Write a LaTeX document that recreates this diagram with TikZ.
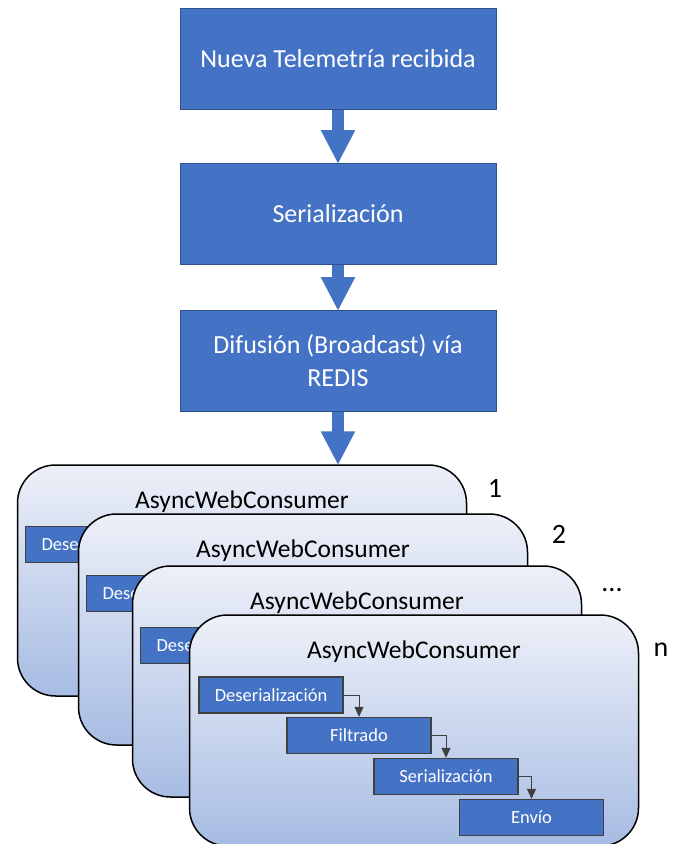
\documentclass[tikz,border=0pt]{standalone}
\usepackage{fontspec}
\setmainfont{Carlito}
\usetikzlibrary{arrows.meta,calc}
\definecolor{offblue}{HTML}{4472C4}
\definecolor{offborder}{HTML}{2F528F}
\definecolor{cardtop}{HTML}{EDF0F8}
\definecolor{cardbot}{HTML}{A7BCE3}
\definecolor{conn}{HTML}{404040}
\tikzset{
  mainbox/.style={draw=offborder, line width=1pt, fill=offblue, text=white,
    minimum width=316pt, minimum height=101pt, align=center, inner sep=0pt,
    font=\fontsize{26}{33}\selectfont},
  blockarrow/.style={draw=offblue, line width=12pt, -{Triangle[width=32pt,length=34pt]}, shorten >=-1pt},
  card/.style={draw=black, line width=1.5pt, rounded corners=38pt, top color=cardtop, bottom color=cardbot,
    minimum width=449pt, minimum height=231pt, inner sep=0pt},
  cardtitle/.style={font=\fontsize{25.5}{30}\selectfont, text=black, inner sep=0pt},
  stepbox/.style={draw=conn, line width=1.4pt, fill=offblue, text=white,
    minimum width=144pt, minimum height=36pt, inner sep=0pt, font=\fontsize{18.5}{22}\selectfont},
  stepconn/.style={draw=conn, line width=0.8pt, -{Triangle[width=9pt,length=10pt]}},
  numlabel/.style={font=\fontsize{28}{32}\selectfont, inner sep=0pt}
}
\begin{document}
\begin{tikzpicture}[x=1pt,y=-1pt]
\useasboundingbox (0,0) rectangle (678,844);
% top flow
\node[mainbox] (b1) at (338,58.5) {Nueva Telemetría recibida};
\node[mainbox] (b2) at (338,214) {Serialización};
\node[mainbox] (b3) at (338,361) {Difusión (Broadcast) vía\\REDIS};
\draw[blockarrow] (b1.south) -- (b2.north);
\draw[blockarrow] (b2.south) -- (b3.north);
% card 1
\node[card] (c1) at (242,580.5) {};
\coordinate (a3end) at (b3.south |- c1.north);
\node[cardtitle] (t1) at ($(c1.north)+(0,37)$) {AsyncWebConsumer};
\node[stepbox] (d1) at ($(c1.north west)+(81,80)$) {Deserialización};
\draw[blockarrow] (b3.south) -- (a3end);
% card 2
\node[card] (c2) at (303,629.5) {};
\node[cardtitle] (t2) at ($(c2.north)+(0,37)$) {AsyncWebConsumer};
\node[stepbox] (d2) at ($(c2.north west)+(81,80)$) {Deserialización};
% card 3
\node[card] (c3) at (357,681.5) {};
\node[cardtitle] (t3) at ($(c3.north)+(0,37)$) {AsyncWebConsumer};
\node[stepbox] (d3) at ($(c3.north west)+(81,80)$) {Deserialización};
% card n
\node[card] (c4) at (414,730.5) {};
\node[cardtitle] (t4) at ($(c4.north)+(0,37)$) {AsyncWebConsumer};
\node[stepbox] (s1) at (271,695) {Deserialización};
\node[stepbox] (s2) at (359,735.5) {Filtrado};
\node[stepbox] (s3) at (446,776.5) {Serialización};
\node[stepbox] (s4) at (531.5,817.5) {Envío};
\draw[stepconn] (s1.east) -| (s2.north);
\draw[stepconn] (s2.east) -| (s3.north);
\draw[stepconn] (s3.east) -| (s4.north);
% labels
\node[numlabel] (n1) at (495,488) {1};
\node[numlabel] (n2) at (559,534) {2};
\node[numlabel] (n3) at (612,590) {...};
\node[numlabel] (n4) at (661,650) {n};
\end{tikzpicture}
\end{document}
